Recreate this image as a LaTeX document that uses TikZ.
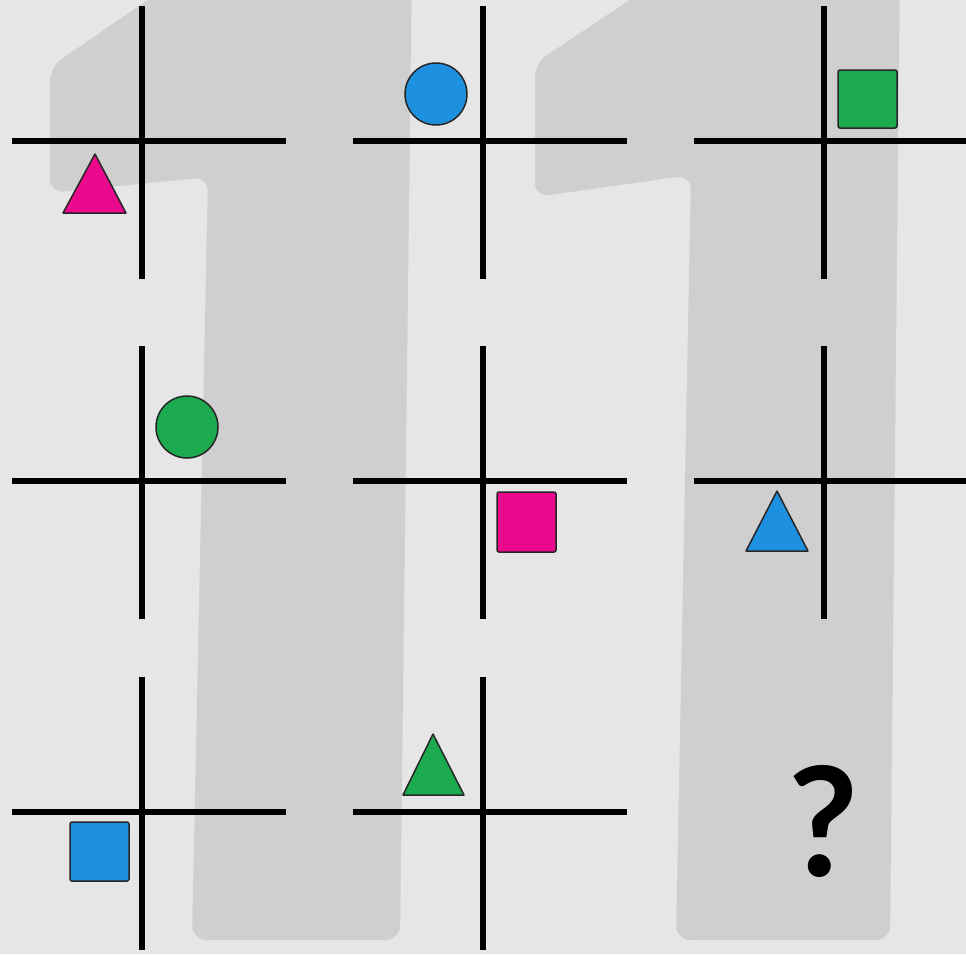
\documentclass[tikz,border=0pt]{standalone}
\usepackage{fontspec}
\usepackage{graphicx}
\newfontfamily\qmfont{Lato}
\definecolor{paper}{RGB}{231,230,231}
\definecolor{digitgray}{RGB}{208,207,208}
\definecolor{shapepink}{RGB}{236,8,140}
\definecolor{shapeblue}{RGB}{30,144,224}
\definecolor{shapegreen}{RGB}{27,170,78}

\begin{document}
\begin{tikzpicture}[x=1pt, y=-1pt,
    bar/.style={line width=6pt, black},
    fig/.style={draw=black!85, line width=1.5pt, line join=round},
    sq/.style={fig, rounded corners=2pt}
]
  % background and the big "11"
  \fill[paper] (0,0) rectangle (966,954);
  \useasboundingbox (0,0) rectangle (966,954);
  \begin{scope}
    \clip (0,0) rectangle (966,954);
    \fill[digitgray, rounded corners=14pt] (206,-40) -- (412,-40) -- (400,940) -- (192,940)
      -- (208,177) -- (50,193) -- (50,67) -- cycle;
    \fill[digitgray, rounded corners=14pt] (690,-40) -- (900,-40) -- (890,940) -- (676,940)
      -- (691,175) -- (535,197) -- (535,63) -- cycle;
  \end{scope}

  % the nine crosses
  \foreach \name/\cx/\cy in {c11/142/141, c12/483/141, c13/824/141,
                             c21/142/481, c22/483/481, c23/824/481,
                             c31/142/812, c32/483/812, c33/824/812} {
    \coordinate (\name) at (\cx,\cy);
  }
  \foreach \name in {c11,c12,c13,c21,c22,c23,c31,c32} {
    \draw[bar] (\name) ++(-130,0) -- ++(274,0);
    \draw[bar] (\name) ++(0,-135) -- ++(0,273);
  }

  % row 1
  \draw[fig, fill=shapepink] (95,154) -- (126,213) -- (63,213) -- cycle;
  \draw[fig, fill=shapeblue] (436,94) circle (31pt);
  \draw[sq, fill=shapegreen] (838,70) rectangle (897,128);
  % row 2
  \draw[fig, fill=shapegreen] (187,427) circle (31pt);
  \draw[sq, fill=shapepink] (497,492) rectangle (556,552);
  \draw[fig, fill=shapeblue] (777,491) -- (808,551) -- (746,551) -- cycle;
  % row 3
  \draw[sq, fill=shapeblue] (70,822) rectangle (129,881);
  \draw[fig, fill=shapegreen] (433,734) -- (464,795) -- (403,795) -- cycle;
  \node[font=\qmfont\bfseries\fontsize{152}{152}\selectfont, inner sep=0pt] (qmark) at (823,821) {?};
\end{tikzpicture}
\end{document}
